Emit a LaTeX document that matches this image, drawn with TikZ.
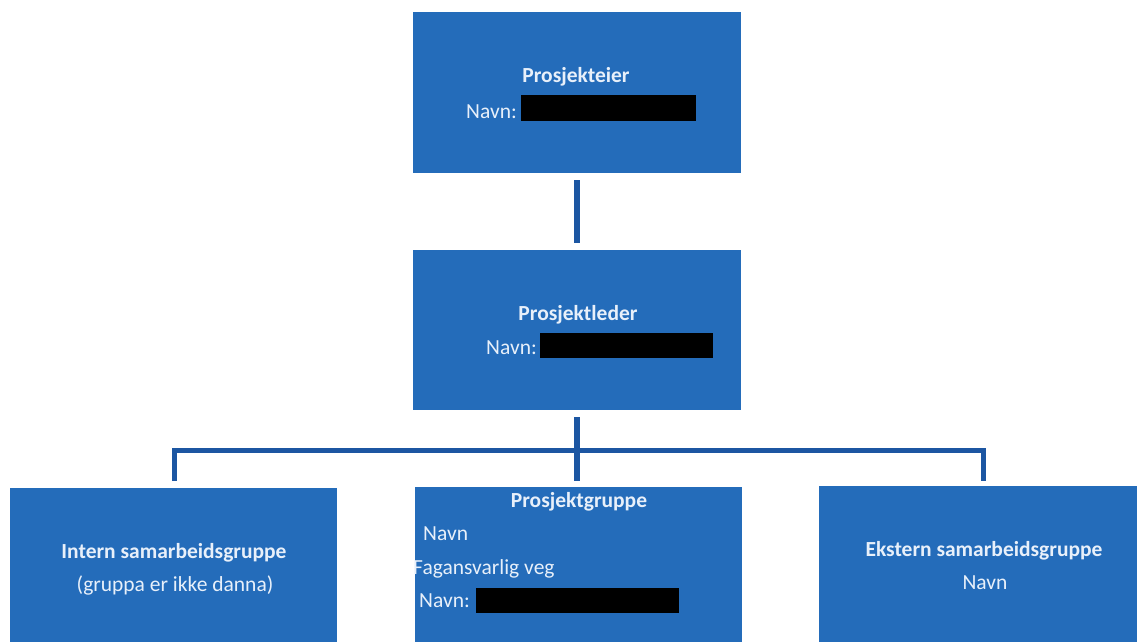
\documentclass[tikz,border=0pt]{standalone}
\usepackage{fontspec}
\setmainfont{Carlito}
\definecolor{boxblue}{RGB}{36,108,186}
\definecolor{lineblue}{RGB}{28,86,162}
\definecolor{txt}{RGB}{232,240,250}
\begin{document}
\begin{tikzpicture}[x=1pt,y=-1pt,
  orgbox/.style={fill=boxblue,draw=none,rectangle,inner sep=0pt},
  conn/.style={draw=lineblue,line width=6pt},
  bar/.style={draw=lineblue,line width=5pt},
  lbl/.style={text=txt,inner sep=0pt,font=\fontsize{21.5}{24}\selectfont},
  blbl/.style={lbl,font=\fontsize{21.5}{24}\selectfont\bfseries},
  redact/.style={fill=black,draw=none}]
\useasboundingbox (0,0) rectangle (1137,642);
\fill[white] (0,0) rectangle (1137,642);
% boxes
\node[orgbox,minimum width=328pt,minimum height=161pt] (owner) at (577,92.5) {};
\node[orgbox,minimum width=328pt,minimum height=160pt] (leader) at (577,330) {};
\node[orgbox,minimum width=327pt,minimum height=154pt] (intern) at (173.5,565) {};
\node[orgbox,minimum width=327pt,minimum height=155pt] (group) at (578.5,564.5) {};
\node[orgbox,minimum width=318pt,minimum height=156pt] (ekstern) at (978,564) {};
% connectors
\draw[conn] ([yshift=-7pt]owner.south) -- ([yshift=7pt]leader.north);
\coordinate (hub) at (577,450);
\coordinate (lcorner) at (174,450);
\coordinate (rcorner) at (983,450);
\coordinate (lend) at (174,481);
\coordinate (rend) at (983,481);
\coordinate (mend) at (577,481);
\draw[conn] ([yshift=-7pt]leader.south) -- (hub) -- (mend);
\draw[bar] (lend) -- (lcorner) -- (hub) -- (rcorner) -- (rend);
% owner texts
\node[blbl,anchor=base] (t1) at (576,82) {Prosjekteier};
\node[lbl,anchor=base east] (t2) at (517,118) {Navn:};
\node[redact,inner sep=0pt,minimum width=175pt,minimum height=26pt] (r1) at (608.5,108) {};
% leader texts
\node[blbl,anchor=base] (t3) at (578,320) {Prosjektleder};
\node[lbl,anchor=base east] (t4) at (537,354) {Navn:};
\node[redact,inner sep=0pt,minimum width=173pt,minimum height=25pt] (r2) at (626.5,345.5) {};
% intern texts
\node[blbl,anchor=base] (t5) at (174,558) {Intern samarbeidsgruppe};
\node[lbl,anchor=base] (t6) at (175,591) {(gruppa er ikke danna)};
% group texts
\node[blbl,anchor=base] (t7) at (579,507) {Prosjektgruppe};
\node[lbl,anchor=base west] (t8) at (423,540) {Navn};
\node[lbl,anchor=base west] (t9) at (413,574) {Fagansvarlig veg};
\node[lbl,anchor=base west] (t10) at (419,607) {Navn:};
\node[redact,inner sep=0pt,minimum width=203pt,minimum height=25pt] (r3) at (577.5,600.5) {};
% ekstern texts
\node[blbl,anchor=base] (t11) at (984,556) {Ekstern samarbeidsgruppe};
\node[lbl,anchor=base] (t12) at (985,589) {Navn};
\end{tikzpicture}
\end{document}
